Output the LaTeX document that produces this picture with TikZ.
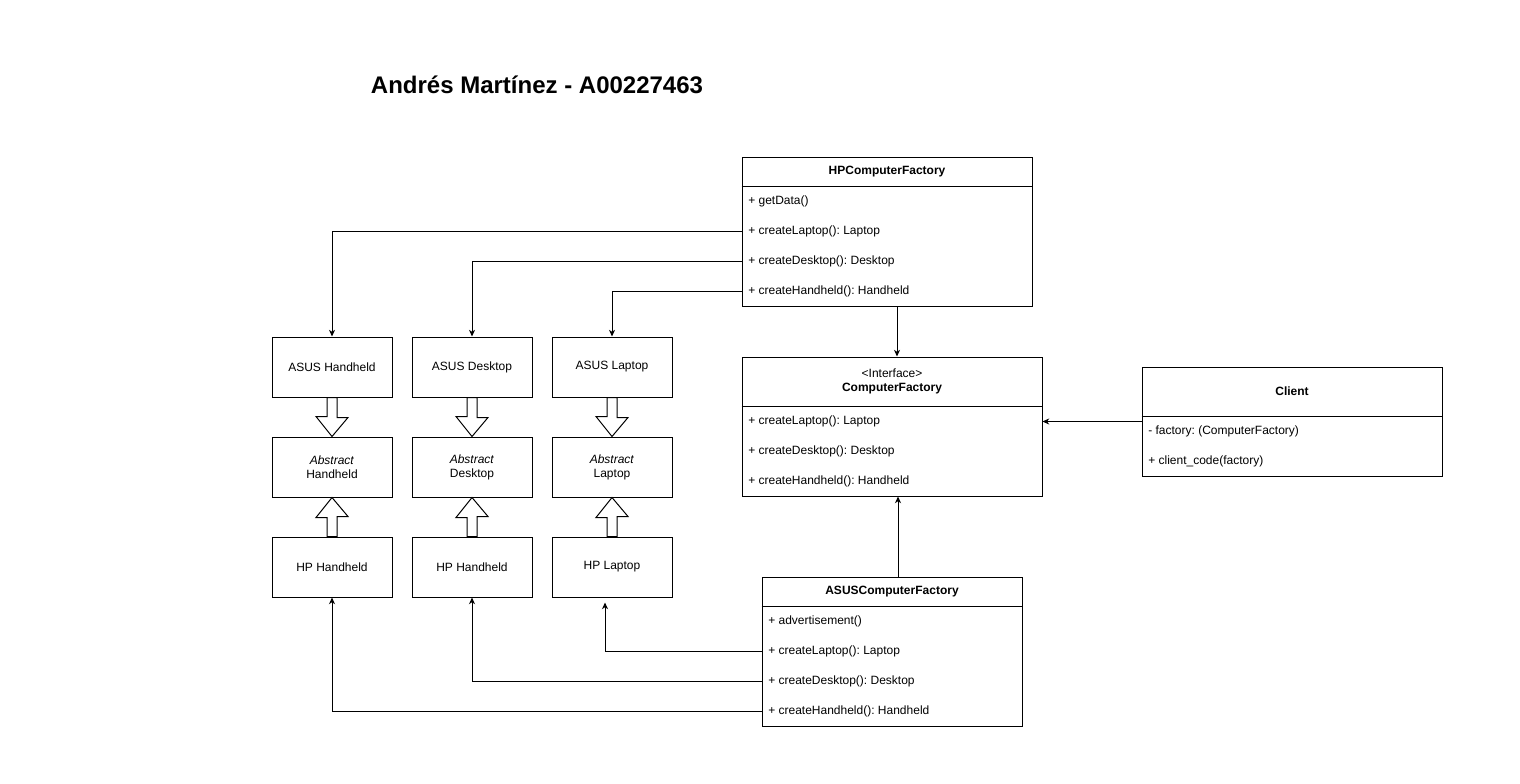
\documentclass[tikz,border=0pt]{standalone}
\usepackage{fontspec}
\setmainfont{Liberation Sans}
\frenchspacing
\usetikzlibrary{arrows.meta}
\tikzset{
  classbox/.style={draw, line width=0.75pt, rectangle, inner sep=0pt},
  smallbox/.style={draw, line width=0.75pt, rectangle, minimum width=90pt, minimum height=45pt,
    align=center, inner sep=0pt, font=\fontsize{9}{10.5}\selectfont},
  head/.style={font=\bfseries\fontsize{9}{10.5}\selectfont, align=center, inner sep=0pt},
  row/.style={anchor=west, inner xsep=4.5pt, inner ysep=0pt, text height=6.8pt, text depth=1.2pt,
    font=\fontsize{9}{10.5}\selectfont},
  link/.style={line width=0.75pt, -{Stealth[length=5pt,width=4.5pt,inset=1.5pt]}},
  block/.style={draw, line width=0.75pt, fill=white, line join=miter},
  divider/.style={line width=0.75pt},
}
\begin{document}
\begin{tikzpicture}[x=0.75pt,y=-0.75pt]
\useasboundingbox (0,0) rectangle (1520,783);

\node[font=\bfseries\fontsize{18}{22}\selectfont] (title) at (537,85) {Andrés Martínez - A00227463};

% HPComputerFactory
\node[classbox, minimum width=217.5pt, minimum height=111.75pt] (hpBox) at (887,231.5) {};
\node[head] (hpHead) at (887,172) {HPComputerFactory};
\draw[divider] ([yshift=-22.5pt]hpBox.north west) -- ([yshift=-22.5pt]hpBox.north east);
\node[row] (hpRowData) at (742,201) {+ getData()};
\node[row] (hpRowLap) at (742,231) {+ createLaptop(): Laptop};
\node[row] (hpRowDesk) at (742,261) {+ createDesktop(): Desktop};
\node[row] (hpRowHand) at (742,291) {+ createHandheld(): Handheld};

% ComputerFactory interface
\node[classbox, minimum width=225pt, minimum height=104.25pt] (cfBox) at (892,426.5) {};
\node[head, font=\fontsize{9}{10.5}\selectfont] (cfHead) at (892,381) {<Interface>\\\textbf{ComputerFactory}};
\draw[divider] ([yshift=-37.5pt]cfBox.north west) -- ([yshift=-37.5pt]cfBox.north east);
\node[row] (cfRowLap) at (742,421) {+ createLaptop(): Laptop};
\node[row] (cfRowDesk) at (742,451) {+ createDesktop(): Desktop};
\node[row] (cfRowHand) at (742,481) {+ createHandheld(): Handheld};

% Client
\node[classbox, minimum width=225pt, minimum height=81.75pt] (clientBox) at (1292,421.5) {};
\node[head] (clientHead) at (1292,391) {Client};
\draw[divider] ([yshift=-37.5pt]clientBox.north west) -- ([yshift=-37.5pt]clientBox.north east);
\node[row] (clientRowFac) at (1142,431) {- factory: (ComputerFactory)};
\node[row] (clientRowCode) at (1142,461) {+ client\_code(factory)};

% ASUSComputerFactory
\node[classbox, minimum width=195pt, minimum height=111.75pt] (asusBox) at (892,651.5) {};
\node[head] (asusHead) at (892,592) {ASUSComputerFactory};
\draw[divider] ([yshift=-22.5pt]asusBox.north west) -- ([yshift=-22.5pt]asusBox.north east);
\node[row] (asusRowAdv) at (762,621) {+ advertisement()};
\node[row] (asusRowLap) at (762,651) {+ createLaptop(): Laptop};
\node[row] (asusRowDesk) at (762,681) {+ createDesktop(): Desktop};
\node[row] (asusRowHand) at (762,711) {+ createHandheld(): Handheld};

% products
\node[smallbox] (asusHand) at (332,367) {ASUS Handheld};
\node[smallbox] (asusDesk) at (472,367) {ASUS Desktop};
\node[smallbox] (asusLapt) at (612,367) {ASUS Laptop};
\node[smallbox] (absHand) at (332,467) {\textit{Abstract}\\Handheld};
\node[smallbox] (absDesk) at (472,467) {\textit{Abstract}\\Desktop};
\node[smallbox] (absLapt) at (612,467) {\textit{Abstract}\\Laptop};
\node[smallbox] (hpHandA) at (332,567) {HP Handheld};
\node[smallbox] (hpHandB) at (472,567) {HP Handheld};
\node[smallbox] (hpLapt) at (612,567) {HP Laptop};

% inheritance block arrows
\foreach \top/\mid/\bot in {asusHand/absHand/hpHandA, asusDesk/absDesk/hpHandB, asusLapt/absLapt/hpLapt} {
  \draw[block] (\top.south) ++(-5,0) -- ++(10,0) -- ++(0,20) -- ++(11,0) -- (\mid.north)
    -- ++(-16,-20) -- ++(11,0) -- cycle;
  \draw[block] (\bot.north) ++(-5,0) -- ++(10,0) -- ++(0,-20) -- ++(11,0) -- (\mid.south)
    -- ++(-16,20) -- ++(11,0) -- cycle;
}

% connectors
\coordinate (hpOut) at ([xshift=7.5pt]hpBox.south);
\coordinate (asusOut) at ([xshift=4.5pt]asusBox.north);
\coordinate (hpLaptIn) at ([xshift=-5.25pt,yshift=-3.75pt]hpLapt.south);
\draw[link] (hpRowLap.west) -| (asusHand.north);
\draw[link] (hpRowDesk.west) -| (asusDesk.north);
\draw[link] (hpRowHand.west) -| (asusLapt.north);
\draw[link] (hpOut) -- (hpOut |- cfBox.north);
\draw[link] (clientBox.west) -- (clientBox.west -| cfBox.east);
\draw[link] (asusOut) -- (asusOut |- cfBox.south);
\draw[link] (asusRowLap.west) -| (hpLaptIn);
\draw[link] (asusRowDesk.west) -| (hpHandB.south);
\draw[link] (asusRowHand.west) -| (hpHandA.south);
\end{tikzpicture}
\end{document}
